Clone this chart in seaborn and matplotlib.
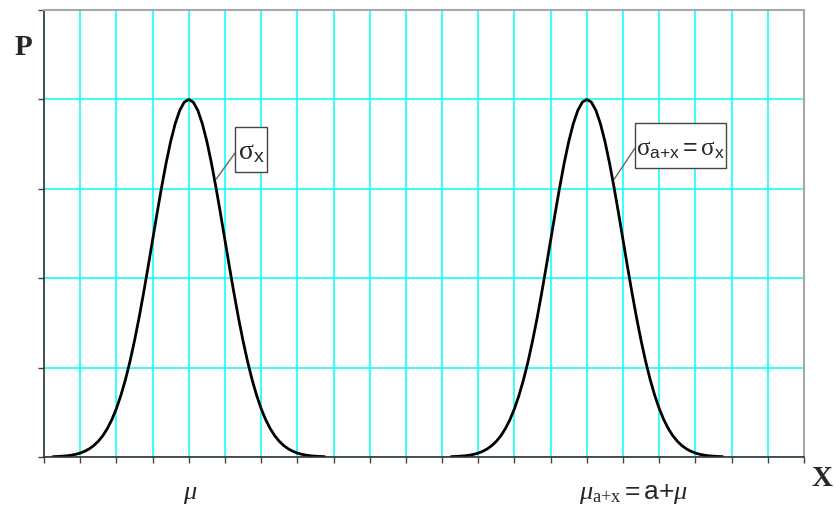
import numpy as np
import pandas as pd
import matplotlib
matplotlib.use("Agg")
import matplotlib.pyplot as plt
from matplotlib.patches import Rectangle
import seaborn as sns

# Data
offsets = [-3.75, -3.625, -3.5, -3.375, -3.25, -3.125, -3.0, -2.875, -2.75, -2.625,
           -2.5, -2.375, -2.25, -2.125, -2.0, -1.875, -1.75, -1.625, -1.5, -1.375,
           -1.25, -1.125, -1.0, -0.875, -0.75, -0.625, -0.5, -0.375, -0.25, -0.125,
           0.0, 0.125, 0.25, 0.375, 0.5, 0.625, 0.75, 0.875, 1.0, 1.125, 1.25, 1.375,
           1.5, 1.625, 1.75, 1.875, 2.0, 2.125, 2.25, 2.375, 2.5, 2.625, 2.75, 2.875,
           3.0, 3.125, 3.25, 3.375, 3.5, 3.625, 3.75]
density = [0.004, 0.006, 0.009, 0.013, 0.020, 0.030, 0.044, 0.064, 0.091, 0.128,
           0.176, 0.238, 0.318, 0.418, 0.541, 0.690, 0.865, 1.068, 1.299, 1.554,
           1.831, 2.124, 2.426, 2.728, 3.019, 3.290, 3.530, 3.728, 3.877, 3.969,
           4.000, 3.969, 3.877, 3.728, 3.530, 3.290, 3.019, 2.728, 2.426, 2.124,
           1.831, 1.554, 1.299, 1.068, 0.865, 0.690, 0.541, 0.418, 0.318, 0.238,
           0.176, 0.128, 0.091, 0.064, 0.044, 0.030, 0.020, 0.013, 0.009, 0.006, 0.004]
mu_left = 4.0
mu_right = 15.0
x_ticks = list(range(0, 22))
y_ticks = [0, 1, 2, 3, 4, 5]

df = pd.concat([
    pd.DataFrame({"x": [mu_left + o for o in offsets], "p": density, "curve": "x"}),
    pd.DataFrame({"x": [mu_right + o for o in offsets], "p": density, "curve": "a+x"}),
])

sns.set_style("white")
plt.rcParams["mathtext.fontset"] = "custom"
plt.rcParams["mathtext.rm"] = "Liberation Serif"
plt.rcParams["mathtext.it"] = "Liberation Serif:italic"
plt.rcParams["mathtext.sf"] = "Liberation Sans"
plt.rcParams["mathtext.bf"] = "Liberation Serif:bold"

W, H = 836, 511
fig = plt.figure(figsize=(W / 100, H / 100), dpi=100)
ax = fig.add_axes([44 / W, 1 - 457 / H, (804 - 44) / W, (457 - 10) / H])

sns.lineplot(data=df, x="x", y="p", units="curve", estimator=None, color="black",
             linewidth=2.0, ax=ax, legend=False, sort=False)

ax.set_xlim(0, 21)
ax.set_ylim(0, 5)
ax.set_xticks(x_ticks)
ax.set_yticks(y_ticks)
ax.set_xticklabels([])
ax.set_yticklabels([])
ax.grid(True, color="#00ffff", linewidth=1.1)
ax.set_axisbelow(True)
ax.tick_params(axis="both", which="both", direction="out", length=4.5, width=1.0,
               color="#444444", bottom=True, left=True)
ax.set_xlabel("")
ax.set_ylabel("")
for side in ["left", "bottom"]:
    ax.spines[side].set_color("#333333")
    ax.spines[side].set_linewidth(1.2)
for side in ["top", "right"]:
    ax.spines[side].set_color("#a8a8a8")
    ax.spines[side].set_linewidth(1.5)


def fx(px):
    return px / W


def fy(py):
    return 1 - py / H


# Axis letters
fig.text(fx(23), fy(47), "P", fontsize=21, fontweight="bold",
         family="Liberation Serif", ha="center", va="center")
fig.text(fx(822), fy(478), "X", fontsize=21, fontweight="bold",
         family="Liberation Serif", ha="center", va="center")

# Labels under the axis
fig.text(fx(190), fy(499), r"$\mu$", fontsize=19, ha="center", va="baseline")
fig.text(fx(579), fy(499), r"$\mu_{\mathrm{a{+}x}}\mathsf{{=}a{+}}\mu$", fontsize=19,
         ha="left", va="baseline")

# Callouts (boxes, leader lines, text)
for (x0, y0, x1, y1) in [(235, 127, 267, 172), (635, 123, 726, 168)]:
    fig.patches.append(Rectangle((fx(x0), fy(y1)), fx(x1) - fx(x0), fy(y0) - fy(y1),
                                 transform=fig.transFigure, fc="white", ec="#444444",
                                 lw=1.0, zorder=5))
ax.annotate("", xy=(mu_left + 0.76, 3.11), xytext=(fx(235), fy(153)),
            textcoords="figure fraction",
            arrowprops=dict(arrowstyle="-", color="#666666", lw=1.0, shrinkA=0, shrinkB=0))
ax.annotate("", xy=(mu_right + 0.76, 3.11), xytext=(fx(635), fy(148)),
            textcoords="figure fraction",
            arrowprops=dict(arrowstyle="-", color="#666666", lw=1.0, shrinkA=0, shrinkB=0))
fig.text(fx(251.5), fy(159), r"$\mathrm{σ}_{\mathsf{x}}$", fontsize=20,
         ha="center", va="baseline", zorder=6)
fig.text(fx(680.5), fy(155),
         r"$\mathrm{σ}_{\mathsf{a{+}x}}\mathsf{{=}}\mathrm{σ}_{\mathsf{x}}$",
         fontsize=18, ha="center", va="baseline", zorder=6)

fig.savefig("out.png", dpi=100)
